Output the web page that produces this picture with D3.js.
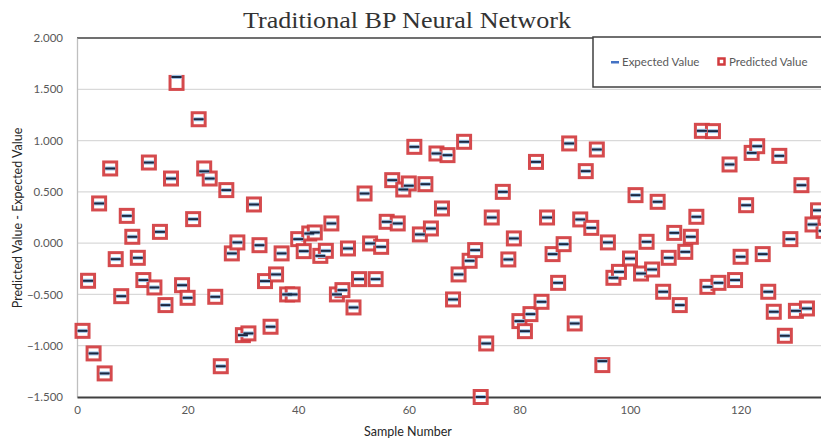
<!DOCTYPE html>
<html><head><meta charset="utf-8">
<script src="https://cdn.jsdelivr.net/npm/d3@7"></script>
<style>body{margin:0;background:#fff}svg{display:block}</style>
</head><body>
<svg id="c" width="821" height="441"></svg>
<script>
const samples = [1,2,3,4,5,6,7,8,9,10,11,12,13,14,15,16,17,18,19,20,21,22,23,24,25,26,27,28,29,30,
  31,32,33,34,35,36,37,38,39,40,41,42,43,44,45,46,47,48,49,50,51,52,53,54,55,56,57,58,59,60,
  61,62,63,64,65,66,67,68,69,70,71,72,73,74,75,77,78,79,80,81,82,83,84,85,86,87,88,89,90,
  91,92,93,94,95,96,97,98,100,101,102,103,104,105,106,107,108,109,110,111,112,113,114,115,116,
  118,119,120,121,122,123,124,125,126,127,128,129,130,131,132,133,134,135];
const predicted = [-0.855,-0.367,-1.075,0.387,-1.27,0.728,-0.156,-0.517,0.266,0.062,-0.143,-0.36,0.786,-0.432,0.11,-0.604,0.63,1.562,-0.41,-0.533,0.234,1.208,0.728,0.63,-0.523,-1.2,0.517,-0.1,0.007,-0.897,
  -0.88,0.377,-0.02,-0.37,-0.815,-0.305,-0.1,-0.5,-0.5,0.039,-0.078,0.094,0.104,-0.124,-0.075,0.192,-0.5,-0.458,-0.052,-0.627,-0.351,0.484,-0.003,-0.351,-0.036,0.208,0.614,0.192,0.523,0.582,
  0.939,0.085,0.575,0.143,0.874,0.338,0.858,-0.549,-0.305,0.988,-0.172,-0.068,-1.5,-0.978,0.25,0.5,-0.159,0.046,-0.76,-0.858,-0.692,0.792,-0.572,0.25,-0.107,-0.387,-0.01,0.972,-0.783,
  0.231,0.702,0.149,0.913,-1.189,0.007,-0.338,-0.28,-0.15,0.468,-0.296,0.013,-0.257,0.403,-0.474,-0.143,0.1,-0.604,-0.085,0.062,0.257,1.095,-0.426,1.092,-0.387,
  0.767,-0.36,-0.133,0.37,0.88,0.945,-0.107,-0.474,-0.669,0.851,-0.903,0.039,-0.66,0.565,-0.637,0.182,0.32,0.12];
const expected = [-0.855,-0.367,-1.075,0.387,-1.27,0.728,-0.156,-0.517,0.266,0.062,-0.143,-0.36,0.786,-0.432,0.11,-0.604,0.63,1.62,-0.41,-0.533,0.234,1.208,0.70,0.63,-0.523,-1.2,0.517,-0.1,0.007,-0.897,
  -0.88,0.377,-0.02,-0.37,-0.815,-0.305,-0.1,-0.5,-0.5,0.039,-0.078,0.094,0.104,-0.124,-0.075,0.192,-0.5,-0.458,-0.052,-0.627,-0.351,0.484,-0.003,-0.351,-0.036,0.208,0.614,0.192,0.523,0.56,
  0.939,0.085,0.575,0.143,0.874,0.338,0.858,-0.549,-0.305,0.988,-0.172,-0.068,-1.5,-0.978,0.25,0.5,-0.159,0.046,-0.76,-0.858,-0.692,0.792,-0.572,0.25,-0.107,-0.387,-0.01,0.972,-0.783,
  0.231,0.702,0.149,0.913,-1.15,0.007,-0.338,-0.28,-0.15,0.468,-0.296,0.013,-0.257,0.403,-0.474,-0.143,0.1,-0.604,-0.085,0.062,0.257,1.095,-0.426,1.092,-0.387,
  0.767,-0.36,-0.133,0.37,0.88,0.945,-0.107,-0.474,-0.669,0.851,-0.903,0.039,-0.66,0.565,-0.637,0.182,0.32,0.12];
const yTicks = [-1.5,-1,-0.5,0,0.5,1,1.5,2];
const xTicks = [0,20,40,60,80,100,120];
const titleText = "Traditional BP Neural Network";
const xTitle = "Sample Number";
const yTitle = "Predicted Value - Expected Value";
const legendLabels = ["Expected Value","Predicted Value"];

const svg = d3.select("#c");
svg.append("rect").attr("width",821).attr("height",441).attr("fill","#fff");

const x = d3.scaleLinear().domain([0,140]).range([77, 77+140*5.53]);
const y = d3.scaleLinear().domain([-1.5,2]).range([397,38]);

// gridlines
svg.append("g").selectAll("line").data(yTicks.filter(t=>t>-1.5 && t<2)).join("line")
  .attr("x1",77).attr("x2",821).attr("y1",d=>y(d)).attr("y2",d=>y(d))
  .attr("stroke","#d9d9d9").attr("stroke-width",1.3);
// top line
svg.append("line").attr("x1",77).attr("x2",821).attr("y1",y(2)).attr("y2",y(2))
  .attr("stroke","#404040").attr("stroke-width",1.5);

// y axis
const yAxis = d3.axisLeft(y).tickValues(yTicks).tickFormat(d3.format(".3f")).tickSize(0).tickPadding(14);
const gy = svg.append("g").attr("transform","translate(77,0)").call(yAxis);
gy.select(".domain").attr("stroke","#bfbfbf").attr("stroke-width",1.3);
gy.selectAll("text").attr("font-family","Lato, 'Open Sans', sans-serif").attr("font-size",11.5).attr("fill","#595959");

// x axis
const xAxis = d3.axisBottom(x).tickValues(xTicks).tickSize(0).tickPadding(9);
const gx = svg.append("g").attr("transform","translate(0,397)").call(xAxis);
gx.select(".domain").attr("stroke","#404040").attr("stroke-width",2.2);
gx.selectAll("text").attr("font-family","Lato, 'Open Sans', sans-serif").attr("font-size",11.5).attr("fill","#595959");

// points
const data = samples.map((s,i)=>({s, p:predicted[i], e:expected[i]}));
const gp = svg.append("g");
gp.selectAll("rect.pred").data(data).join("rect").attr("class","pred")
  .attr("x",d=>x(d.s)-6.5).attr("y",d=>y(d.p)-6.5).attr("width",13).attr("height",13)
  .attr("fill","#fff").attr("stroke","#d13b3e").attr("stroke-width",3).attr("stroke-opacity",0.92);
gp.selectAll("rect.eh").data(data).join("rect").attr("class","eh")
  .attr("x",d=>x(d.s)-5).attr("y",d=>y(d.e)-2).attr("width",10).attr("height",4)
  .attr("fill","#9dc3e6");
gp.selectAll("rect.ec").data(data).join("rect").attr("class","ec")
  .attr("x",d=>x(d.s)-5).attr("y",d=>y(d.e)-1).attr("width",10).attr("height",2)
  .attr("fill","#1a2740");

// legend
svg.append("rect").attr("x",593).attr("y",37).attr("width",240).attr("height",50)
  .attr("fill","#fff").attr("stroke","#404040").attr("stroke-width",1.5);
svg.append("rect").attr("x",611).attr("y",61).attr("width",8).attr("height",2.5).attr("fill","#4472c4");
svg.append("text").attr("x",622).attr("y",66).text(legendLabels[0])
  .attr("font-family","Lato, 'Open Sans', sans-serif").attr("font-size",11.5).attr("fill","#595959");
svg.append("rect").attr("x",718.5).attr("y",58.5).attr("width",6).attr("height",6)
  .attr("fill","#fff").attr("stroke","#d13b3e").attr("stroke-width",2.5);
svg.append("text").attr("x",729).attr("y",66).text(legendLabels[1])
  .attr("font-family","Lato, 'Open Sans', sans-serif").attr("font-size",11.5).attr("fill","#595959");

// titles
svg.append("text").attr("x",407).attr("y",28).attr("text-anchor","middle").text(titleText)
  .attr("font-family","'Liberation Serif', serif").attr("font-size",23)
  .attr("textLength",328).attr("lengthAdjust","spacingAndGlyphs").attr("fill","#333");
svg.append("text").attr("x",408).attr("y",436).attr("text-anchor","middle").text(xTitle)
  .attr("font-family","Lato, 'Open Sans', sans-serif").attr("font-size",12.5).attr("fill","#262626");
svg.append("text").attr("transform","translate(22,218) rotate(-90)").attr("text-anchor","middle").text(yTitle)
  .attr("font-family","Lato, 'Open Sans', sans-serif").attr("font-size",12.5).attr("fill","#262626");
</script>
</body></html>
